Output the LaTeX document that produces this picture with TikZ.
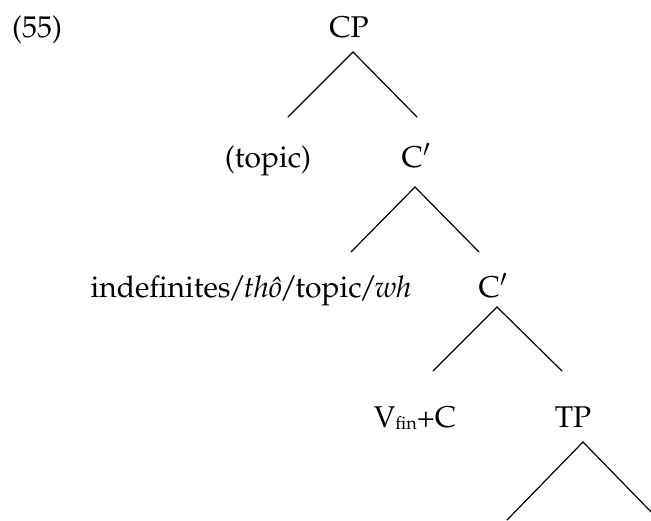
\documentclass[tikz,border=0pt]{standalone}
\usepackage[T1]{fontenc}
\usepackage{mathpazo}
\usepackage{tikz}
\usetikzlibrary{positioning}
\tikzstyle{word} = [inner sep=0pt, text height=21pt, text depth=7pt, font=\fontsize{30}{36}\selectfont]
\tikzstyle{branch} = [line width=1.2pt, line cap=round]
\newcommand{\tightslash}{\kern-2.5pt/\kern-2.5pt}

\begin{document}
\begin{tikzpicture}[x=1pt, y=1pt, node distance = 130pt]
    \clip (0,0) rectangle (651,-520);
    \node (ex) [word, anchor=base west] at (12,-37) {(55)};
    \node (cp) [word] at (349,-30) {CP};
    \node (topic) [word, below of=cp, xshift=-81pt] {(topic)};
    \node (cbar1) [word, below of=cp, xshift=67pt] {C$'$};
    \node (indef) [word, below of=cbar1, xshift=-165pt] {indefinites\tightslash{\itshape th\^o}\tightslash topic\tightslash{\itshape wh}};
    \node (cbar2) [word, below of=cbar1, xshift=77pt] {C$'$};
    \node (vfin) [word, below of=cbar2, xshift=-78pt] {V\raisebox{-2pt}{\fontsize{18}{20}\selectfont fin}+C};
    \node (tp) [word, below of=cbar2, xshift=80pt] {TP};
    % tips and leg ends of the branches
    \coordinate (cp-tip) at (353,-52);
    \coordinate (cp-l) at (288,-117);
    \coordinate (cp-r) at (417,-117);
    \coordinate (cbar1-tip) at (415,-187);
    \coordinate (cbar1-l) at (351,-252);
    \coordinate (cbar1-r) at (479,-252);
    \coordinate (cbar2-tip) at (497,-307);
    \coordinate (cbar2-l) at (433,-371);
    \coordinate (cbar2-r) at (562,-371);
    \coordinate (tp-tip) at (583,-442);
    \coordinate (tp-l) at (507,-520);
    \coordinate (tp-r) at (659,-520);
    \draw [branch] (cp-l) -- (cp-tip) -- (cp-r);
    \draw [branch] (cbar1-l) -- (cbar1-tip) -- (cbar1-r);
    \draw [branch] (cbar2-l) -- (cbar2-tip) -- (cbar2-r);
    \draw [branch] (tp-l) -- (tp-tip) -- (tp-r);
\end{tikzpicture}
\end{document}
